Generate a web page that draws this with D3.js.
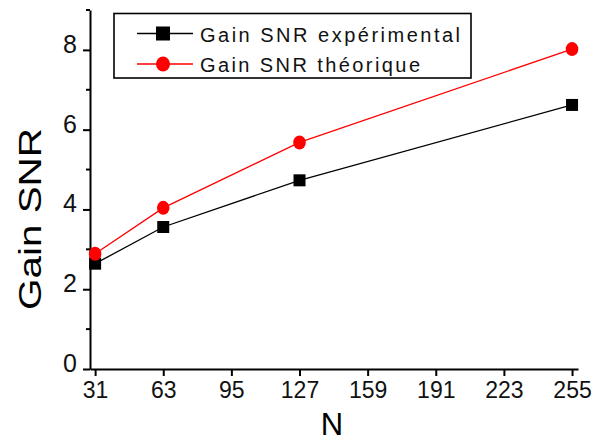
<!DOCTYPE html>
<html>
<head>
<meta charset="utf-8">
<script src="https://cdn.jsdelivr.net/npm/d3@7"></script>
<style>
  html, body { margin: 0; padding: 0; background: #fff; }
  svg { display: block; font-family: Arial, "Liberation Sans", sans-serif; }
</style>
</head>
<body>
<svg id="chart" width="595" height="442"></svg>
<script>
const N = [31, 63, 127, 255];
const gainExp = [2.64, 3.56, 4.73, 6.62];
const gainTheo = [2.89, 4.04, 5.68, 8.02];
const xTicks = [31, 63, 95, 127, 159, 191, 223, 255];
const yTicks = [0, 2, 4, 6, 8];
const yMinorTicks = [1, 3, 5, 7, 9];
const seriesNames = ["Gain SNR expérimental", "Gain SNR théorique"];
const seriesColors = ["#000000", "#ff0000"];

const svg = d3.select("#chart");
const x = d3.scaleLinear().domain([28.6, 257.8]).range([90, 578]);
const y = d3.scaleLinear().domain([0, 9]).range([369, 10]);

// X axis
const xAxis = svg.append("g").attr("transform", `translate(0,${y(0)})`)
  .call(d3.axisBottom(x).tickValues(xTicks).tickSize(7).tickSizeOuter(0).tickPadding(5));
xAxis.select(".domain").attr("stroke", "#000").attr("stroke-width", 2);
xAxis.selectAll(".tick line").attr("stroke", "#000").attr("stroke-width", 2);
xAxis.selectAll(".tick text").attr("font-size", 23).attr("fill", "#111")
  .attr("font-family", "Arial, 'Liberation Sans', sans-serif").attr("dy", "0.72em");

// Y axis
const yAxis = svg.append("g").attr("transform", `translate(${x.range()[0]},0)`)
  .call(d3.axisLeft(y).tickValues(yTicks).tickSize(7).tickSizeOuter(0).tickPadding(6));
yAxis.select(".domain").attr("stroke", "#000").attr("stroke-width", 2);
yAxis.selectAll(".tick line").attr("stroke", "#000").attr("stroke-width", 2);
yAxis.selectAll(".tick text").attr("font-size", 25).attr("fill", "#111")
  .attr("font-family", "Arial, 'Liberation Sans', sans-serif").attr("dy", "0.1em");

// Minor y ticks
svg.append("g").selectAll("line").data(yMinorTicks).join("line")
  .attr("x1", x.range()[0] - 4).attr("x2", x.range()[0])
  .attr("y1", d => y(d)).attr("y2", d => y(d))
  .attr("stroke", "#000").attr("stroke-width", 2);

// Axis titles
svg.append("text").attr("x", 332).attr("y", 435).attr("text-anchor", "middle")
  .attr("font-size", 31).attr("fill", "#000").text("N");
svg.append("text").attr("transform", "translate(41,219) rotate(-90)")
  .attr("text-anchor", "middle").attr("font-size", 32).attr("fill", "#000")
  .attr("textLength", 182).attr("lengthAdjust", "spacingAndGlyphs")
  .text("Gain SNR");

// Series
const series = [gainExp, gainTheo];
const line = d3.line().x((d, i) => x(N[i])).y(d => y(d));
series.forEach((vals, si) => {
  svg.append("path").datum(vals).attr("d", line)
    .attr("fill", "none").attr("stroke", seriesColors[si]).attr("stroke-width", 1.3);
});
// markers: squares for experimental, circles for theoretical
svg.append("g").selectAll("rect").data(gainExp).join("rect")
  .attr("x", (d, i) => x(N[i]) - 6).attr("y", d => y(d) - 6)
  .attr("width", 12).attr("height", 12).attr("fill", seriesColors[0]);
svg.append("g").selectAll("ellipse").data(gainTheo).join("ellipse")
  .attr("cx", (d, i) => x(N[i])).attr("cy", d => y(d))
  .attr("rx", 6.3).attr("ry", 7).attr("fill", seriesColors[1]);

// Legend
const lg = svg.append("g");
lg.append("rect").attr("x", 114).attr("y", 13.5).attr("width", 357).attr("height", 64.5)
  .attr("fill", "#fff").attr("stroke", "#000").attr("stroke-width", 1.6);
const rowY = [33.5, 64];
const textLens = [260, 220];
seriesNames.forEach((name, i) => {
  lg.append("line").attr("x1", 137).attr("x2", 193).attr("y1", rowY[i]).attr("y2", rowY[i])
    .attr("stroke", seriesColors[i]).attr("stroke-width", 1.3);
  if (i === 0) {
    lg.append("rect").attr("x", 163 - 7).attr("y", rowY[i] - 7).attr("width", 14).attr("height", 14)
      .attr("fill", seriesColors[i]);
  } else {
    lg.append("ellipse").attr("cx", 163).attr("cy", rowY[i]).attr("rx", 7).attr("ry", 7.5)
      .attr("fill", seriesColors[i]);
  }
  lg.append("text").attr("x", 200).attr("y", rowY[i] + 8)
    .attr("font-size", 20).attr("fill", "#111")
    .attr("textLength", textLens[i]).attr("lengthAdjust", "spacing")
    .text(name);
});
</script>
</body>
</html>
